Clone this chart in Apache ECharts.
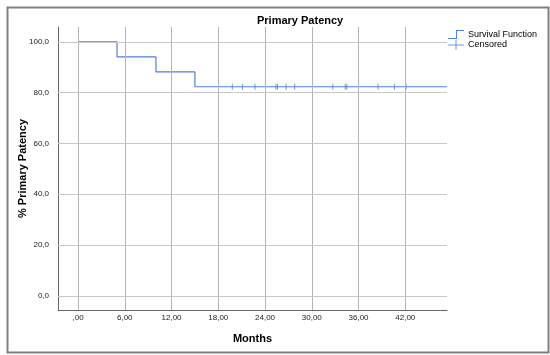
<!DOCTYPE html>
<html><head><meta charset="utf-8">
<script src="https://cdn.jsdelivr.net/npm/echarts@6/dist/echarts.min.js"></script>
<style>html,body{margin:0;padding:0;background:#fff}#c{width:550px;height:355px}</style>
</head><body><div id="c"></div>
<script>
// Kaplan-Meier step points (months, % primary patency)
const stepMonths = [0, 5, 10, 15, 47.35];
const stepSurvival = [100, 94.1, 88.2, 82.35, 82.35];
// Censored observations
const censoredMonths = [19.8, 21.1, 22.7, 25.4, 25.6, 26.7, 27.8, 32.7, 34.3, 34.5, 38.5, 40.6, 42.1];
const censoredSurvival = [82.35, 82.35, 82.35, 82.35, 82.35, 82.35, 82.35, 82.35, 82.35, 82.35, 82.35, 82.35, 82.35];
// Ticks
const xTicks = [0, 6, 12, 18, 24, 30, 36, 42];
const xTickLabels = [',00', '6,00', '12,00', '18,00', '24,00', '30,00', '36,00', '42,00'];
const yTicks = [0, 20, 40, 60, 80, 100];
const yTickLabels = ['0,0', '20,0', '40,0', '60,0', '80,0', '100,0'];

const FONT = 'Liberation Sans, Arial, sans-serif';
const BLUE = '#4f81d8';
const chart = echarts.init(document.getElementById('c'), null, {renderer: 'canvas'});

const survivalData = stepMonths.map((m, i) => [m, stepSurvival[i]]);
const censoredData = censoredMonths.map((m, i) => [m, censoredSurvival[i]]);

const gridLines = xTicks.map(v => ({xAxis: v, lineStyle: {color: '#b4b4b4', width: 1, type: 'solid'}}))
  .concat(yTicks.map(v => ({yAxis: v, lineStyle: {color: '#c8c8c8', width: 1, type: 'solid'}})));

chart.setOption({
  animation: false,
  backgroundColor: '#fff',
  textStyle: {fontFamily: FONT},
  title: {
    text: 'Primary Patency', left: 257, top: 15, padding: 0,
    textStyle: {fontSize: 11, fontWeight: 'bold', color: '#000', fontFamily: FONT}
  },
  legend: {
    orient: 'vertical', left: 448, top: 30, padding: 0, itemGap: 1,
    itemWidth: 16, itemHeight: 10,
    textStyle: {fontSize: 9, color: '#000', fontFamily: FONT, padding: [0, 0, 0, -1]},
    data: [
      {name: 'Survival Function', icon: 'path://M0,8 L8,8 L8,0 L16,0 L16,1 L9,1 L9,9 L0,9 Z', itemStyle: {color: BLUE}},
      {name: 'Censored', icon: 'path://M0,4.5 L16,4.5 L16,5.5 L0,5.5 Z M7.5,0 L8.5,0 L8.5,10 L7.5,10 Z', itemStyle: {color: BLUE}}
    ]
  },
  grid: {left: 58, right: 103, top: 27, bottom: 45, containLabel: false},
  xAxis: {
    type: 'value', min: -2.57, max: 47.35,
    name: 'Months', nameLocation: 'middle', nameGap: 23, nameMoveOverlap: false,
    nameTextStyle: {fontSize: 11, fontWeight: 'bold', color: '#000', fontFamily: FONT},
    axisLine: {show: true, onZero: false, lineStyle: {color: '#666', width: 1}},
    axisTick: {show: false},
    splitLine: {show: false},
    axisLabel: {
      customValues: xTicks, margin: 4, fontSize: 8, color: '#222', fontFamily: FONT,
      formatter: v => { const i = xTicks.indexOf(v); return i >= 0 ? xTickLabels[i] : ''; }
    }
  },
  yAxis: {
    type: 'value', min: -5.6, max: 105.9,
    name: '% Primary Patency', nameLocation: 'middle', nameGap: 30, nameRotate: 90, nameMoveOverlap: false,
    nameTextStyle: {fontSize: 11, fontWeight: 'bold', color: '#000', fontFamily: FONT},
    axisLine: {show: true, onZero: false, lineStyle: {color: '#666', width: 1}},
    axisTick: {show: false},
    splitLine: {show: false},
    axisLabel: {
      customValues: yTicks, margin: 9, fontSize: 8, color: '#222', fontFamily: FONT,
      formatter: v => { const i = yTicks.indexOf(v); return i >= 0 ? yTickLabels[i] : ''; }
    }
  },
  graphic: [{
    type: 'rect', left: 5, top: 5, z: 100, silent: true,
    shape: {width: 541, height: 345},
    style: {fill: 'none', stroke: '#808080', lineWidth: 2}
  }],
  series: [
    {
      name: 'grid', type: 'line', data: [], z: 1, silent: true,
      markLine: {silent: true, symbol: 'none', label: {show: false}, data: gridLines, animation: false}
    },
    {
      name: 'Survival Function', type: 'line', step: 'end', data: survivalData, z: 3,
      symbol: 'none', lineStyle: {color: BLUE, width: 1.2}, itemStyle: {color: BLUE}
    },
    {
      name: 'Censored', type: 'scatter', data: censoredData, z: 4,
      symbol: 'rect', symbolSize: [1, 6], itemStyle: {color: BLUE}
    }
  ]
});
</script>
</body></html>
